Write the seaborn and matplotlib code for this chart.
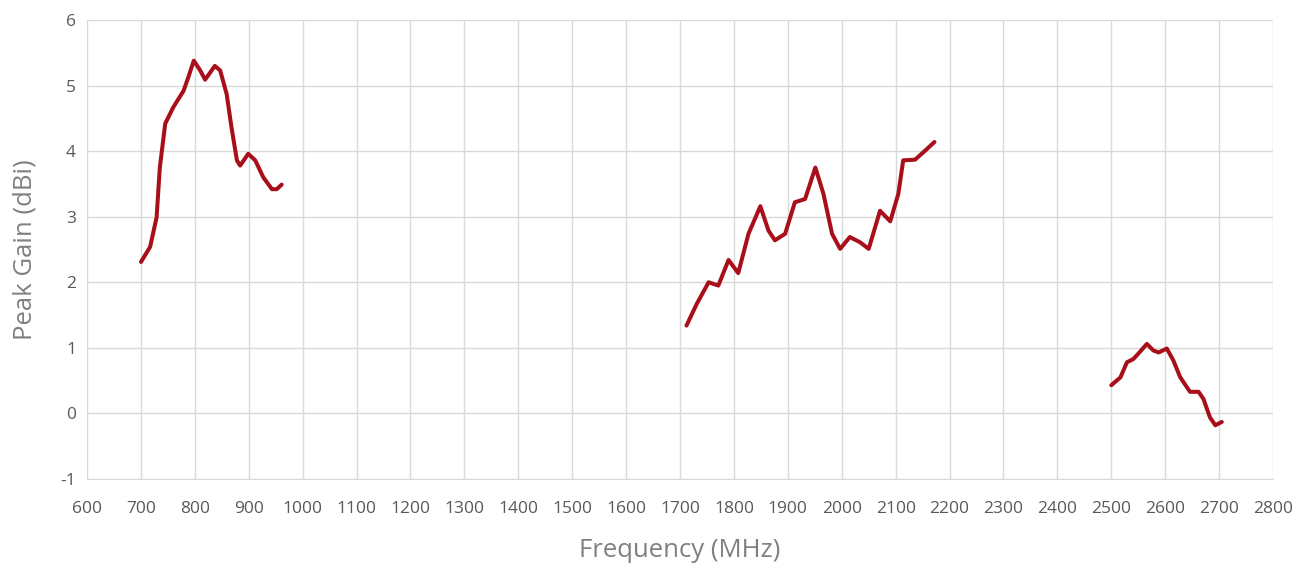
import numpy as np
import pandas as pd
import matplotlib
matplotlib.use("Agg")
import matplotlib.pyplot as plt
import seaborn as sns

# Band 1 (low band)
freq_low = [700, 717, 729, 735, 745, 760, 779, 788, 798, 810, 819, 837, 847,
            859, 868, 878, 884, 899, 912, 927, 943, 952, 961]
gain_low = [2.31, 2.54, 2.99, 3.75, 4.42, 4.67, 4.92, 5.13, 5.38, 5.23, 5.09,
            5.30, 5.23, 4.87, 4.36, 3.86, 3.78, 3.96, 3.86, 3.60, 3.42, 3.42, 3.49]

# Band 2 (mid band)
freq_mid = [1712, 1731, 1753, 1771, 1790, 1808, 1827, 1849, 1864, 1876, 1895,
            1913, 1932, 1951, 1966, 1982, 1997, 2015, 2034, 2050, 2071, 2090,
            2105, 2114, 2136, 2155, 2172]
gain_mid = [1.34, 1.67, 2.00, 1.95, 2.34, 2.14, 2.74, 3.16, 2.79, 2.64, 2.74,
            3.22, 3.27, 3.75, 3.35, 2.74, 2.51, 2.69, 2.61, 2.51, 3.09, 2.93,
            3.35, 3.86, 3.87, 4.01, 4.14]

# Band 3 (high band)
freq_high = [2500, 2517, 2529, 2541, 2550, 2566, 2578, 2588, 2603, 2615, 2628,
             2646, 2662, 2671, 2683, 2693, 2705]
gain_high = [0.43, 0.55, 0.78, 0.83, 0.91, 1.06, 0.96, 0.93, 0.99, 0.81, 0.55,
             0.33, 0.33, 0.22, -0.06, -0.18, -0.13]

df = pd.concat([
    pd.DataFrame({"freq": freq_low, "gain": gain_low, "band": "low"}),
    pd.DataFrame({"freq": freq_mid, "gain": gain_mid, "band": "mid"}),
    pd.DataFrame({"freq": freq_high, "gain": gain_high, "band": "high"}),
])

sns.set_style("white")
plt.rcParams['font.family'] = ['Open Sans', 'DejaVu Sans']
plt.rcParams['axes.unicode_minus'] = False

fig = plt.figure(figsize=(13.09, 5.72), dpi=100)
ax = fig.add_axes([0.0665, 0.1626, 0.906, 0.8024])

line_color = "#A80F1A"
sns.lineplot(data=df, x="freq", y="gain", units="band", estimator=None,
             color=line_color, linewidth=2.9, sort=False, ax=ax)
for ln in ax.lines:
    ln.set_solid_joinstyle("round")
    ln.set_solid_capstyle("round")

ax.set_xlim(600, 2800)
ax.set_ylim(-1, 6)
ax.set_xticks(np.arange(600, 2801, 100))
ax.set_yticks(np.arange(-1, 7, 1))
ax.grid(True, color="#D9D9D9", linewidth=1)
for s in ["top", "right", "left"]:
    ax.spines[s].set_visible(False)
ax.spines["bottom"].set_color("#D9D9D9")
ax.tick_params(axis="both", length=0, labelsize=12.5, colors="#595959")
ax.tick_params(axis="x", pad=16)
ax.tick_params(axis="y", pad=8)

ax.set_xlabel("Frequency (MHz)", fontsize=18.5, color="#808080", labelpad=15)
ax.set_ylabel("Peak Gain (dBi)", fontsize=18.5, color="#808080", labelpad=16)

fig.savefig("out.png", dpi=100)
